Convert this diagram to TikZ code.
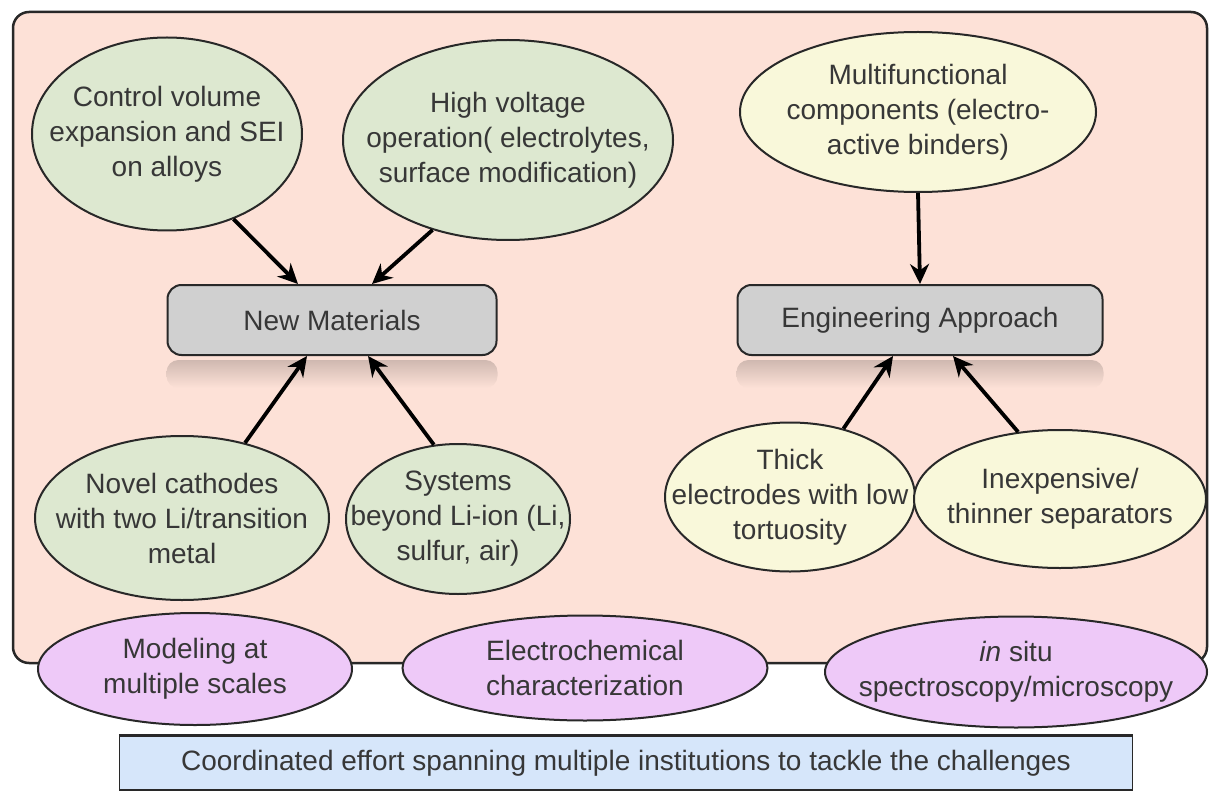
\documentclass[tikz,border=0pt]{standalone}
\usepackage{fontspec}
\setmainfont{Liberation Sans}
\usetikzlibrary{arrows.meta,shapes.geometric,calc}
\definecolor{bgpink}{RGB}{253,225,215}
\definecolor{fgreen}{RGB}{221,232,208}
\definecolor{fyellow}{RGB}{249,248,218}
\definecolor{fgray}{RGB}{208,208,208}
\definecolor{fpurple}{RGB}{238,201,248}
\definecolor{fblue}{RGB}{214,230,250}
\definecolor{txt}{RGB}{55,55,55}
\definecolor{edge}{RGB}{40,40,40}
\tikzset{
  base/.style={draw=edge,line width=2pt,text=txt,align=center,inner sep=0pt,
    font=\fontsize{28}{35}\selectfont},
  ell/.style={base,ellipse},
  greenell/.style={ell,fill=fgreen},
  yellowell/.style={ell,fill=fyellow},
  purpleell/.style={ell,fill=fpurple},
  lbl/.style={text=txt,align=center,inner sep=0pt,font=\fontsize{28}{35}\selectfont},
  graybox/.style={base,rectangle,rounded corners=14pt,fill=fgray},
  refl/.style={rounded corners=12pt,draw=none,top color=black!18!bgpink,bottom color=bgpink},
  conn/.style={line width=3.8pt,black,-{Stealth[length=20pt,width=19pt]}},
}
% #1 name, #2 style, #3 position, #4 width, #5 height, #6 text
\newcommand\ellnode[6]{%
  \node[#2,minimum width=#4,minimum height=#5] (#1) at #3 {};
  \node[lbl] (#1-t) at (#1.center) {#6};
}
\begin{document}
\begin{tikzpicture}[x=1pt,y=-1pt]
\useasboundingbox (0,0) rectangle (1209,794);
% main background panel
\node[draw=edge,line width=2.5pt,fill=bgpink,rounded corners=16pt,minimum width=1194pt,minimum height=651pt,inner sep=0pt] (panel) at (610,337.5) {};
% central boxes
\node[graybox,minimum width=329pt,minimum height=70pt] (nm) at (332,320) {New Materials};
\node[graybox,minimum width=365pt,minimum height=70pt] (ea) at (920,320) {Engineering Approach};
% faint reflections below the boxes
\shade[refl] ([yshift=-4pt]nm.south west) rectangle ([yshift=-32pt]nm.south east);
\shade[refl] ([yshift=-4pt]ea.south west) rectangle ([yshift=-32pt]ea.south east);
% top ellipses
\ellnode{ctrl}{greenell}{(167,134)}{270pt}{193pt}{Control volume\\expansion and SEI\\on alloys}
\ellnode{hv}{greenell}{(508,140)}{330pt}{200pt}{High voltage\\operation( electrolytes,\\surface modification)}
\ellnode{mf}{yellowell}{(918,112)}{356pt}{160pt}{Multifunctional\\components (electro-\\active binders)}
% lower ellipses
\ellnode{nc}{greenell}{(182,518)}{294pt}{164pt}{Novel cathodes\\with two Li/transition\\metal}
\ellnode{sb}{greenell}{(458,519)}{224pt}{150pt}{Systems\\beyond Li-ion (Li,\\sulfur, air)}
\ellnode{te}{yellowell}{(790,497)}{250pt}{149pt}{Thick\\electrodes with low\\tortuosity}
\ellnode{ie}{yellowell}{(1060,499)}{292pt}{138pt}{Inexpensive/\\thinner separators}
% bottom purple ellipses
\ellnode{mod}{purpleell}{(195,669)}{314pt}{112pt}{Modeling at\\multiple scales}
\ellnode{ec}{purpleell}{(585,668)}{365pt}{105pt}{Electrochemical\\characterization}
\ellnode{is}{purpleell}{(1016,672)}{382pt}{111pt}{\textit{in} situ\\spectroscopy/microscopy}
% bottom banner
\node[draw=edge,line width=1.5pt,fill=fblue,minimum width=1013pt,minimum height=54pt,inner sep=0pt,text=txt,font=\fontsize{28}{35}\selectfont] (banner) at (626,763) {Coordinated effort spanning multiple institutions to tackle the challenges};
\draw[line width=3pt,edge] (banner.north west) -- (banner.north east);
% connectors
\draw[conn] (ctrl.-52) -- ([xshift=-34pt]nm.north);
\draw[conn] (hv.-130) -- ([xshift=40pt]nm.north);
\draw[conn] (mf.south) -- (ea.north);
\draw[conn] (nc.50) -- ([xshift=-25pt]nm.south);
\draw[conn] (sb.108) -- ([xshift=36pt]nm.south);
\draw[conn] (te.52) -- ([xshift=-27pt]ea.south);
\draw[conn] (ie.122) -- ([xshift=33pt]ea.south);
\end{tikzpicture}
\end{document}
